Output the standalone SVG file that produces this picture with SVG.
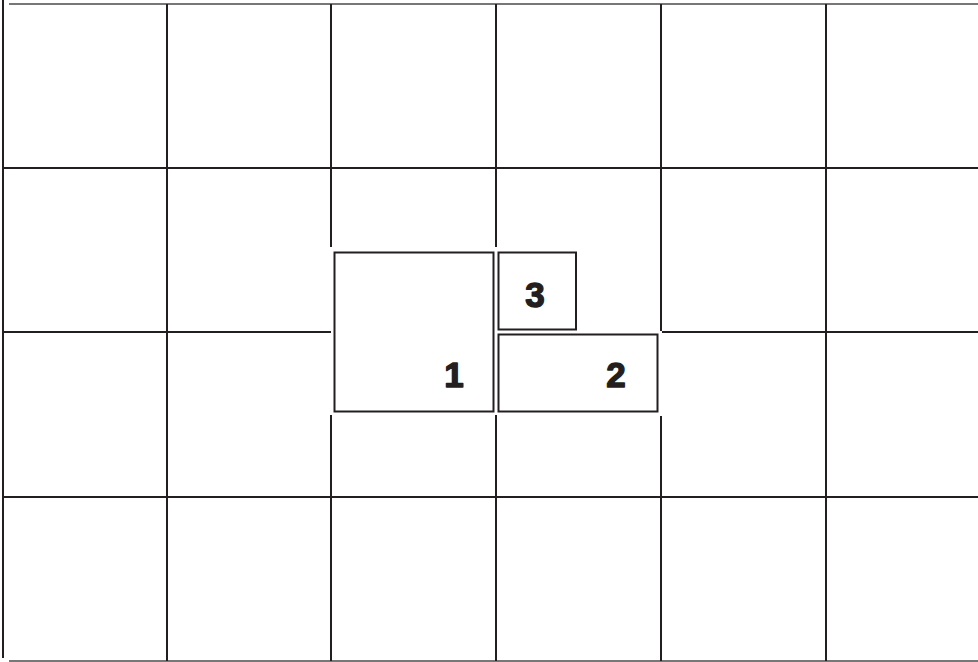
<svg xmlns="http://www.w3.org/2000/svg" width="978" height="662" viewBox="0 0 978 662">
<style>
.g{stroke:#231f20;stroke-width:2;fill:none}
.e{stroke:#777;stroke-width:2;fill:none}
.b{stroke:#231f20;stroke-width:2;fill:#fff}
.t{font-family:"Liberation Sans",Arial,sans-serif;font-weight:bold;font-size:35px;fill:#231f20;stroke:#231f20;stroke-width:1.4;stroke-linejoin:round;text-anchor:middle}
</style>
<rect width="978" height="662" fill="#fff"/>
<g id="connectors">
<line class="e" x1="9" y1="4" x2="978" y2="4"/>
<line class="e" x1="9" y1="661" x2="978" y2="661"/>
<line class="g" x1="3" y1="0" x2="3" y2="658"/>
<line class="g" x1="3" y1="168" x2="978" y2="168"/>
<line class="g" x1="3" y1="497" x2="978" y2="497"/>
<line class="g" x1="3" y1="332" x2="331" y2="332"/>
<line class="g" x1="662" y1="332" x2="978" y2="332"/>
<line class="g" x1="167" y1="4" x2="167" y2="661"/>
<line class="g" x1="826" y1="4" x2="826" y2="661"/>
<line class="g" x1="331" y1="4" x2="331" y2="247"/>
<line class="g" x1="331" y1="415" x2="331" y2="661"/>
<line class="g" x1="496" y1="4" x2="496" y2="247"/>
<line class="g" x1="496" y1="415" x2="496" y2="661"/>
<line class="g" x1="661" y1="4" x2="661" y2="331"/>
<line class="g" x1="661" y1="416" x2="661" y2="661"/>
</g>
<g id="node1">
<rect class="b" x="334.5" y="252.5" width="159" height="159"/>
<text class="t" x="454" y="387">1</text>
</g>
<g id="node3">
<rect class="b" x="498.5" y="252.5" width="77.5" height="77"/>
<text class="t" x="535" y="306.5">3</text>
</g>
<g id="node2">
<rect class="b" x="498.5" y="334.5" width="159" height="77"/>
<text class="t" x="616" y="387">2</text>
</g>
</svg>
